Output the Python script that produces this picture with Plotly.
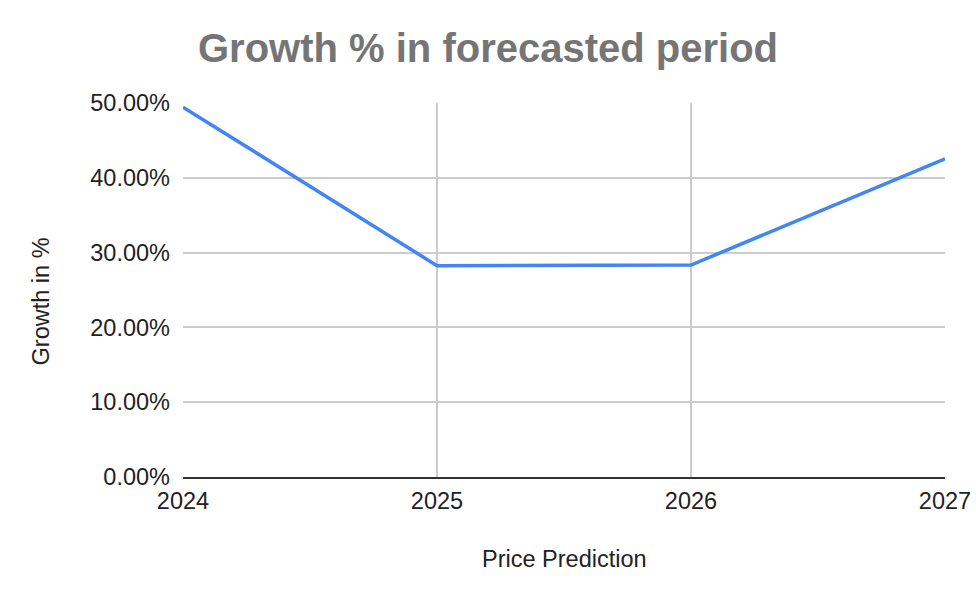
import plotly.graph_objects as go

years = [2024, 2025, 2026, 2027]
growth = [0.4945, 0.2825, 0.2834, 0.4253]
y_ticks = [0, 0.1, 0.2, 0.3, 0.4, 0.5]
x_ticks = [2024, 2025, 2026, 2027]

FONT = "Liberation Sans, Arial, sans-serif"

W, H = 976, 604
L, R_EDGE, T, B_EDGE = 183.3, 945.0, 103.3, 476.7  # plot area in page px


def px_x(x):
    return (x - L) / (R_EDGE - L)


def px_y(y):
    return (B_EDGE - y) / (B_EDGE - T)


fig = go.Figure()
fig.add_trace(go.Scatter(
    x=years, y=growth, mode="lines",
    line=dict(color="#4285F4", width=3.5),
    hoverinfo="x+y",
))

fig.update_layout(
    width=W, height=H,
    margin=dict(l=L, r=W - R_EDGE, t=T, b=H - B_EDGE, pad=0),
    paper_bgcolor="white", plot_bgcolor="white",
    font=dict(family=FONT, size=23.5, color="#222222"),
    showlegend=False,
    title=dict(
        text="<b>Growth % in forecasted period</b>",
        font=dict(family=FONT, size=40, color="#757575"),
        x=488 / W, xref="container", xanchor="center",
        y=1 - 48 / H, yref="container", yanchor="middle",
        automargin=False,
    ),
    xaxis=dict(
        range=[2024, 2027],
        tickvals=x_ticks, ticktext=[str(v) for v in x_ticks],
        showgrid=True, gridcolor="#cccccc", gridwidth=1.5,
        showline=True, linecolor="#333333", linewidth=2,
        zeroline=False, ticks="", ticklabelstandoff=2,
        tickfont=dict(size=23.5, color="#222222"),
        automargin=False,
    ),
    yaxis=dict(
        range=[0, 0.5],
        tickvals=y_ticks, tickformat=".2%",
        showgrid=True, gridcolor="#cccccc", gridwidth=1.5,
        showline=False, zeroline=False, ticks="", ticklabelstandoff=12,
        tickfont=dict(size=23.5, color="#222222"),
        automargin=False,
    ),
    annotations=[
        dict(text="Price Prediction", xref="paper", yref="paper",
             x=px_x(565), y=px_y(559),
             xanchor="center", yanchor="middle", showarrow=False,
             font=dict(family=FONT, size=23.5, color="#222222")),
        dict(text="Growth in %", xref="paper", yref="paper",
             x=px_x(41.5), y=px_y(301.3),
             xanchor="center", yanchor="middle", showarrow=False, textangle=-90,
             font=dict(family=FONT, size=23.5, color="#222222")),
    ],
)

fig.write_html(
    "out.html",
    config={"displayModeBar": False},
    post_script="document.body.style.margin='0';document.body.style.overflow='hidden';",
)
